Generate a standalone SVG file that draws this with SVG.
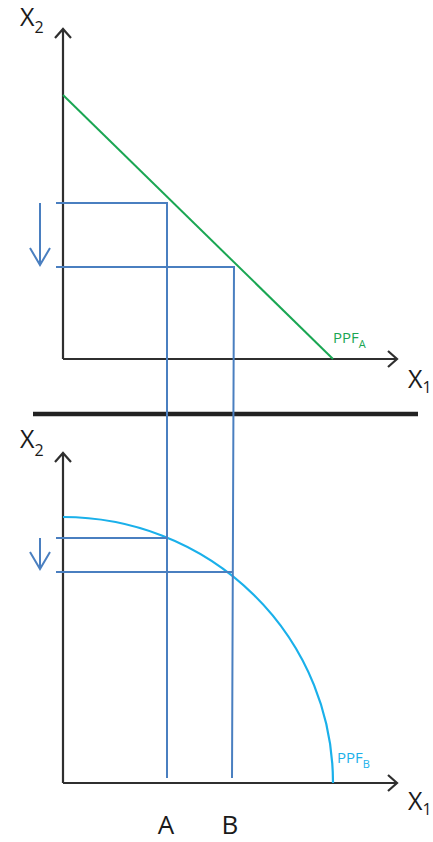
<svg xmlns="http://www.w3.org/2000/svg" width="433" height="842" viewBox="0 0 433 842">
<style>
.axis{stroke:#2f2f2f;stroke-width:2.2;fill:none}
.blue{stroke:#4a7fc0;stroke-width:2;fill:none}
.lbl{font-family:"Open Sans","DejaVu Sans",sans-serif;fill:#1a1a1a}
.ppf{font-family:"Open Sans","DejaVu Sans",sans-serif;font-size:15px}
</style>
<rect width="433" height="842" fill="#fff"/>
<g id="top-axes">
<path class="axis" d="M63,359 V29 M55,38 L63,29 L71,38"/>
<path class="axis" d="M63,359 H397 M388,351 L397,359 L388,367"/>
<text class="lbl" x="20" y="26" font-size="25">X<tspan font-size="16" dy="7">2</tspan></text>
<text class="lbl" x="408" y="388" font-size="25">X<tspan font-size="16" dy="5">1</tspan></text>
</g>
<g id="ppf-a">
<line x1="63" y1="95" x2="333" y2="359" stroke="#1aa653" stroke-width="2"/>
<text class="ppf" x="333" y="343" fill="#1aa653">PPF<tspan font-size="11" dy="5">A</tspan></text>
</g>
<g id="divider">
<line x1="33" y1="414" x2="418" y2="414" stroke="#222" stroke-width="4.5"/>
</g>
<g id="bottom-axes">
<path class="axis" d="M63,783 V453 M55,462 L63,453 L71,462"/>
<path class="axis" d="M63,783 H397 M388,775 L397,783 L388,791"/>
<text class="lbl" x="20" y="448" font-size="25">X<tspan font-size="16" dy="8">2</tspan></text>
<text class="lbl" x="408" y="810" font-size="25">X<tspan font-size="16" dy="5">1</tspan></text>
</g>
<g id="ppf-b">
<path d="M63,517 A270,266 0 0 1 333,783" stroke="#1ab0ea" stroke-width="2.2" fill="none"/>
<text class="ppf" x="337" y="763" fill="#1ab0ea">PPF<tspan font-size="11" dy="5">B</tspan></text>
</g>
<g id="connectors">
<path class="blue" d="M56,203 H167 V778"/>
<path class="blue" d="M56,267 H234 L232,778"/>
<path class="blue" d="M56,538 H167"/>
<path class="blue" d="M56,572 H233"/>
<path class="blue" d="M40,203 V265 M30,248 L40,265 L50,248"/>
<path class="blue" d="M40,538 V569 M30,552 L40,569 L50,552"/>
</g>
<g id="labels">
<text class="lbl" x="166" y="834" font-size="26" text-anchor="middle">A</text>
<text class="lbl" x="230" y="834" font-size="26" text-anchor="middle">B</text>
</g>
</svg>
